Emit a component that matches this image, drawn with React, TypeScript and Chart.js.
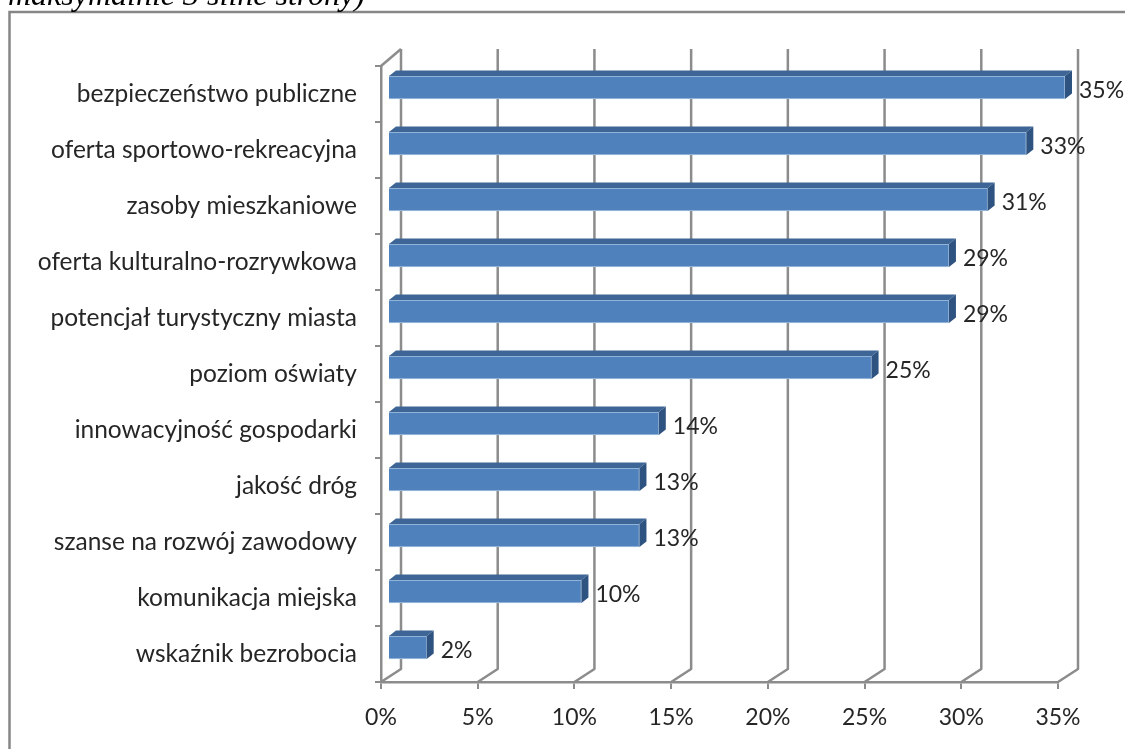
import React, { useEffect, useRef } from "react";
import { Chart, registerables } from "chart.js";

Chart.register(...registerables);

const categories = [
  "bezpieczeństwo publiczne",
  "oferta sportowo-rekreacyjna",
  "zasoby mieszkaniowe",
  "oferta kulturalno-rozrywkowa",
  "potencjał turystyczny miasta",
  "poziom oświaty",
  "innowacyjność gospodarki",
  "jakość dróg",
  "szanse na rozwój zawodowy",
  "komunikacja miejska",
  "wskaźnik bezrobocia",
];
const values = [35, 33, 31, 29, 29, 25, 14, 13, 13, 10, 2];
const pageTitle = "maksymalnie 3 silne strony)";

const GRID = "#8c8c8c";
const TEXT = "#262626";
const FONT = "Lato";
const WALL_DX = 20;
const WALL_DY = 13;
const BAR_DX = 7;
const BAR_DY = 6.5;
const DEPTH_X = 7;
const DEPTH_Y = 5.5;

const framePlugin = {
  id: "frame",
  beforeDraw(chart: any) {
    const { ctx } = chart;
    ctx.save();
    ctx.strokeStyle = "#868686";
    ctx.lineWidth = 2.5;
    ctx.strokeRect(9.5, 12, 1200, 800);
    ctx.restore();
  },
};

const wallPlugin = {
  id: "walls",
  beforeDatasetsDraw(chart: any) {
    const { ctx, scales, chartArea } = chart;
    const x = scales.x;
    const { top, bottom, left } = chartArea;
    ctx.save();
    ctx.strokeStyle = GRID;
    ctx.lineWidth = 2.5;
    ctx.lineJoin = "round";
    x.ticks.forEach((t: any) => {
      const px = x.getPixelForValue(t.value);
      ctx.beginPath();
      ctx.moveTo(px, bottom);
      ctx.lineTo(px + WALL_DX, bottom - WALL_DY);
      ctx.lineTo(px + WALL_DX, top - WALL_DY - 4);
      ctx.stroke();
    });
    ctx.beginPath();
    ctx.moveTo(left, top);
    ctx.lineTo(left + WALL_DX, top - WALL_DY - 4);
    ctx.stroke();
    ctx.restore();
  },
};

const bar3dPlugin = {
  id: "bar3d",
  beforeDatasetDraw(chart: any) {
    chart.ctx.save();
    chart.ctx.translate(BAR_DX, -BAR_DY);
  },
  afterDatasetDraw(chart: any, args: any) {
    const { ctx } = chart;
    const meta = args.meta;
    meta.data.forEach((bar: any) => {
      const p = bar.getProps(["x", "y", "base", "height"], true);
      const t = p.y - p.height / 2;
      const b = p.y + p.height / 2;
      const l = p.base;
      const r = p.x;
      ctx.fillStyle = "#3d6595";
      ctx.beginPath();
      ctx.moveTo(l, t);
      ctx.lineTo(l + DEPTH_X, t - DEPTH_Y);
      ctx.lineTo(r + DEPTH_X, t - DEPTH_Y);
      ctx.lineTo(r, t);
      ctx.closePath();
      ctx.fill();
      ctx.fillStyle = "#2f5380";
      ctx.beginPath();
      ctx.moveTo(r, t);
      ctx.lineTo(r + DEPTH_X, t - DEPTH_Y);
      ctx.lineTo(r + DEPTH_X, b - DEPTH_Y);
      ctx.lineTo(r, b);
      ctx.closePath();
      ctx.fill();
    });
    ctx.restore();
    ctx.save();
    ctx.font = `23px ${FONT}`;
    ctx.fillStyle = TEXT;
    ctx.textAlign = "left";
    ctx.textBaseline = "middle";
    meta.data.forEach((bar: any, i: number) => {
      const p = bar.getProps(["x", "y"], true);
      ctx.fillText(`${values[i]}%`, p.x + BAR_DX + 14, p.y - 3);
    });
    ctx.restore();
  },
};

export default function App() {
  const ref = useRef<HTMLCanvasElement>(null);
  useEffect(() => {
    document.body.style.margin = "0";
    const chart = new Chart(ref.current!, {
      type: "bar",
      data: {
        labels: categories,
        datasets: [
          {
            data: values,
            backgroundColor: "#4f81bd",
            borderColor: "#a9c3e0",
            borderWidth: 1,
            barThickness: 23,
            clip: false,
          } as any,
        ],
      },
      options: {
        indexAxis: "y",
        animation: false,
        responsive: false,
        devicePixelRatio: 1,
        layout: { padding: { top: 66, right: 67, left: 0, bottom: 0 } },
        plugins: { legend: { display: false }, tooltip: { enabled: false } },
        scales: {
          x: {
            type: "linear",
            min: 0,
            max: 35,
            afterFit: (s: any) => { s.height = 67; },
            border: { color: GRID, width: 2.5 },
            grid: { drawOnChartArea: false, drawTicks: true, tickLength: 7, color: GRID, lineWidth: 2 },
            ticks: {
              stepSize: 5,
              callback: (v: any) => `${v}%`,
              color: TEXT,
              maxRotation: 0,
              padding: 15,
              font: { family: FONT, size: 23 },
            },
          },
          y: {
            type: "category",
            afterFit: (s: any) => { s.width = 381; },
            border: { color: GRID, width: 2.5 },
            grid: { drawOnChartArea: false, offset: true, drawTicks: true, tickLength: 6, color: GRID, lineWidth: 2 },
            ticks: {
              color: TEXT,
              padding: 18,
              autoSkip: false,
              font: { family: FONT, size: 24.5 },
            },
          },
        },
      },
      plugins: [framePlugin, wallPlugin, bar3dPlugin],
    } as any);
    return () => chart.destroy();
  }, []);
  return (
    <div style={{ position: "relative", width: 1125, height: 749, overflow: "hidden", background: "#fff" }}>
      <canvas ref={ref} width={1125} height={749} style={{ position: "absolute", left: 0, top: 0, display: "block" }} />
      <div
        style={{
          position: "absolute",
          left: 8,
          top: -19,
          fontFamily: "'Liberation Serif'",
          fontStyle: "italic",
          fontSize: 32,
          lineHeight: "26px",
          color: "#000",
          whiteSpace: "nowrap",
        }}
      >
        {pageTitle}
      </div>
    </div>
  );
}
